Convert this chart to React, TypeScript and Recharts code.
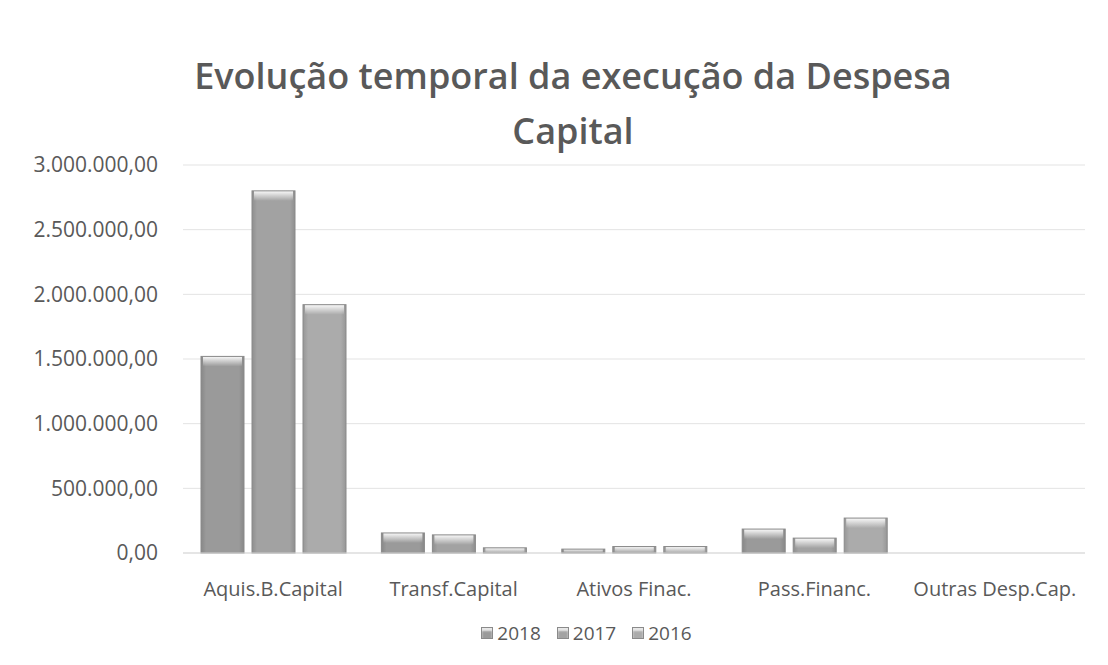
import React from 'react'
import { BarChart, Bar, XAxis, YAxis, CartesianGrid, Legend } from 'recharts'

const categories = ['Aquis.B.Capital', 'Transf.Capital', 'Ativos Finac.', 'Pass.Financ.', 'Outras Desp.Cap.']
const values2018 = [1520000, 155000, 30000, 185000, 0]
const values2017 = [2800000, 140000, 50000, 115000, 0]
const values2016 = [1920000, 40000, 50000, 270000, 0]
const yTicks = [0, 500000, 1000000, 1500000, 2000000, 2500000, 3000000]

const SERIES = [
  { key: 'y2018', name: '2018', color: '#9a9a9a' },
  { key: 'y2017', name: '2017', color: '#a2a2a2' },
  { key: 'y2016', name: '2016', color: '#ababab' },
]

const data = categories.map((category, i) => ({
  category,
  y2018: values2018[i],
  y2017: values2017[i],
  y2016: values2016[i],
}))

const FONT = '"Open Sans", sans-serif'
const TEXT = '#595959'

const fmt = (v: number) =>
  v.toLocaleString('de-DE', { minimumFractionDigits: 2, maximumFractionDigits: 2 })

function BevelBar(props: any) {
  const { x, y, width, height, fill } = props
  if (!height || height <= 0) return null
  const band = Math.min(10, height)
  return (
    <g>
      <rect x={x} y={y} width={width} height={height} fill={fill} />
      <rect x={x} y={y} width={width} height={height} fill="url(#edgeShade)" />
      <rect x={x + 2} y={y} width={width - 4} height={band} fill="url(#topGlow)" />
      <rect x={x} y={y} width={width} height={height} fill="none" stroke="#8a8a8a" strokeWidth={1} />
    </g>
  )
}

function XTick(props: any) {
  const { x, y, payload } = props
  return (
    <text x={x} y={y + 27} textAnchor="middle" dominantBaseline="central" fontSize={20} fill={TEXT} fontFamily={FONT}>
      {payload.value}
    </text>
  )
}

function LegendContent() {
  return (
    <div style={{ display: 'flex', justifyContent: 'center', gap: 16, paddingTop: 17, paddingLeft: 80, fontFamily: FONT, fontSize: 19, color: TEXT }}>
      {SERIES.map(s => (
        <div key={s.key} style={{ display: 'flex', alignItems: 'center', gap: 4 }}>
          <span style={{ display: 'inline-block', width: 10, height: 10, background: s.color, border: '1px solid #8a8a8a', boxShadow: 'inset 0 3px 2px #e8e8e8' }} />
          <span>{s.name}</span>
        </div>
      ))}
    </div>
  )
}

export default function App() {
  return (
    <div style={{ position: 'relative', width: 1092, height: 650, background: '#fff' }}>
      <div
        style={{
          position: 'absolute',
          top: 40,
          left: 0,
          width: 1092,
          textAlign: 'center',
          fontFamily: FONT,
          fontWeight: 600,
          fontSize: 36,
          lineHeight: '55px',
          color: TEXT,
          paddingLeft: 38,
          boxSizing: 'border-box',
        }}
      >
        Evolução temporal da execução da Despesa
        <br />
        Capital
      </div>
      <BarChart
        width={1092}
        height={650}
        data={data}
        margin={{ top: 157, right: 15, left: 0, bottom: 5 }}
        barCategoryGap={18}
        barGap={8}
      >
        <defs>
          <linearGradient id="edgeShade" x1="0" y1="0" x2="1" y2="0">
            <stop offset="0" stopColor="#000" stopOpacity={0.12} />
            <stop offset="0.12" stopColor="#000" stopOpacity={0} />
            <stop offset="0.88" stopColor="#000" stopOpacity={0} />
            <stop offset="1" stopColor="#000" stopOpacity={0.12} />
          </linearGradient>
          <linearGradient id="topGlow" x1="0" y1="0" x2="0" y2="1">
            <stop offset="0" stopColor="#fff" stopOpacity={0.95} />
            <stop offset="1" stopColor="#fff" stopOpacity={0} />
          </linearGradient>
        </defs>
        <CartesianGrid vertical={false} stroke="#e3e3e3" />
        <XAxis
          dataKey="category"
          height={50}
          tickLine={false}
          axisLine={{ stroke: '#d9d9d9' }}
          tick={<XTick />}
          interval={0}
        />
        <YAxis
          width={175}
          domain={[0, 3000000]}
          ticks={yTicks}
          tickFormatter={fmt}
          axisLine={false}
          tickLine={false}
          tickSize={0}
          tickMargin={25}
          tick={{ fontSize: 21, fill: TEXT, fontFamily: FONT }}
        />
        <Legend verticalAlign="bottom" height={50} content={<LegendContent />} />
        {SERIES.map(s => (
          <Bar key={s.key} dataKey={s.key} name={s.name} fill={s.color} shape={<BevelBar />} isAnimationActive={false} />
        ))}
      </BarChart>
    </div>
  )
}
